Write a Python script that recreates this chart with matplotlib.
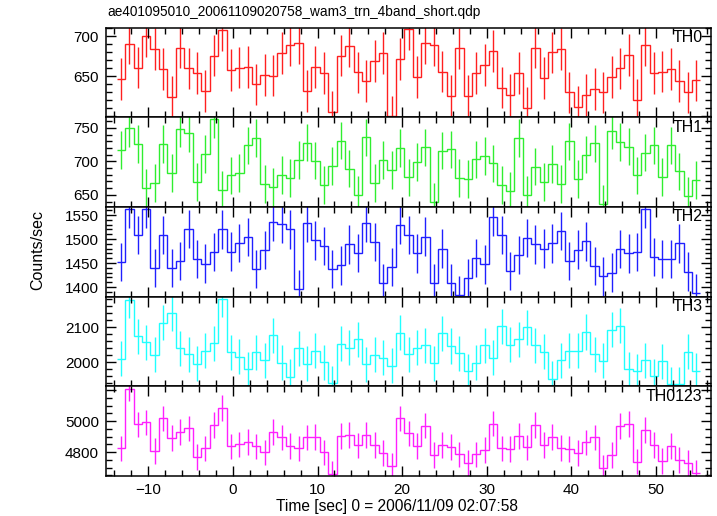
import matplotlib
matplotlib.use('Agg')
import matplotlib.pyplot as plt
from matplotlib.ticker import MultipleLocator, FuncFormatter
import numpy as np

plt.rcParams['font.family'] = ['Liberation Sans', 'DejaVu Sans']

TITLE = 'ae401095010_20061109020758_wam3_trn_4band_short.qdp'
XLABEL = 'Time [sec] 0 = 2006/11/09 02:07:58'
YLABEL = 'Counts/sec'

# 1 s bins
t_start = -13.75
bin_width = 1.0

names = ['TH0', 'TH1', 'TH2', 'TH3', 'TH0123']
colors = ['#ff2020', '#30ee30', '#2020ff', '#20ffff', '#ff20ff']

th0 = [647, 691, 661, 700, 684, 659, 624, 686, 660, 654, 632, 676, 708, 658, 661, 662, 640, 652,
       651, 679, 689, 692, 632, 662, 654, 606, 676, 688, 655, 644, 669, 679, 600, 672, 709, 649,
       692, 689, 656, 626, 685, 626, 654, 664, 682, 636, 627, 654, 611, 686, 648, 680, 684, 630,
       612, 627, 634, 630, 649, 660, 677, 621, 689, 654, 656, 659, 644, 630, 645]
th1 = [717, 750, 726, 660, 668, 726, 683, 749, 742, 669, 711, 763, 657, 679, 683, 724, 735, 666,
       662, 680, 675, 702, 728, 701, 665, 693, 731, 689, 650, 736, 668, 702, 687, 720, 676, 699,
       721, 640, 716, 718, 675, 674, 703, 708, 697, 665, 656, 735, 650, 692, 669, 696, 666, 730,
       674, 710, 727, 636, 746, 729, 722, 679, 713, 724, 677, 724, 685, 649, 672]
th2 = [1452, 1562, 1508, 1562, 1439, 1508, 1440, 1454, 1521, 1459, 1449, 1473, 1520, 1474, 1492,
       1504, 1438, 1477, 1535, 1532, 1520, 1395, 1533, 1497, 1486, 1437, 1445, 1489, 1471, 1534,
       1494, 1408, 1442, 1529, 1509, 1470, 1505, 1408, 1480, 1409, 1383, 1418, 1460, 1447, 1546,
       1508, 1433, 1467, 1502, 1489, 1480, 1491, 1517, 1454, 1478, 1495, 1444, 1422, 1430, 1479,
       1470, 1473, 1562, 1463, 1459, 1458, 1491, 1432, 1388]
th3 = [2010, 2177, 2074, 2057, 2021, 2112, 2139, 2039, 2023, 1996, 2033, 2054, 2179, 2028, 2016,
       1979, 2028, 2005, 2076, 1998, 1958, 2039, 1996, 2032, 1999, 1940, 2053, 2041, 2065, 1994,
       2021, 2013, 1990, 2084, 2023, 2041, 2048, 1997, 2082, 2046, 2025, 1974, 1998, 2048, 2013,
       2103, 2050, 2065, 2099, 2048, 2029, 1953, 2006, 2032, 2032, 2086, 2022, 2004, 2093, 2104,
       1980, 1974, 2005, 1959, 2003, 1937, 1937, 2030, 1976]
th0123 = [4824, 5211, 4979, 4992, 4807, 5018, 4893, 4931, 4953, 4770, 4824, 4974, 5086, 4837, 4850,
          4867, 4837, 4798, 4931, 4895, 4841, 4824, 4895, 4899, 4798, 4658, 4905, 4912, 4843, 4912,
          4845, 4796, 4710, 5018, 4921, 4841, 4972, 4781, 4847, 4834, 4785, 4731, 4785, 4813, 4985,
          4824, 4818, 4905, 4830, 4974, 4845, 4899, 4826, 4818, 4796, 4863, 4895, 4695, 4779, 4968,
          4981, 4738, 4942, 4845, 4744, 4839, 4748, 4731, 4663]
series = [th0, th1, th2, th3, th0123]
errors = [26, 28, 40, 50, 83]

ylims = [(599, 711), (632, 766), (1380, 1567), (1931, 2187), (4645, 5226)]
major = [50, 50, 50, 100, 200]
minor = [10, 10, 10, 20, 50]


def edge_hiding(lo, hi):
    # no label on ticks that sit right at the frame
    def fmt(v, pos):
        if v - lo < 0.06 * (hi - lo) or hi - v < 0.06 * (hi - lo):
            return ''
        return '%d' % v
    return FuncFormatter(fmt)


fig = plt.figure(figsize=(7.17, 5.16), dpi=100)
left, right = 106 / 717, 711 / 717
top, bottom = 1 - 27.5 / 516, 1 - 476 / 516
h = (top - bottom) / 5

axes = []
for i, (name, col, vals, err) in enumerate(zip(names, colors, series, errors)):
    ax = fig.add_axes([left, top - (i + 1) * h, right - left, h])
    vals = np.array(vals, dtype=float)
    edges = t_start + bin_width * np.arange(len(vals) + 1)
    centers = 0.5 * (edges[:-1] + edges[1:])
    ax.stairs(vals, edges, baseline=None, color=col, lw=1.0)
    ax.errorbar(centers, vals, yerr=err, fmt='none', ecolor=col, elinewidth=1.0, capsize=0)
    ax.set_xlim(-15, 56.5)
    ax.set_ylim(*ylims[i])
    ax.xaxis.set_major_locator(MultipleLocator(10))
    ax.xaxis.set_minor_locator(MultipleLocator(2))
    ax.yaxis.set_major_locator(MultipleLocator(major[i]))
    ax.yaxis.set_minor_locator(MultipleLocator(minor[i]))
    ax.yaxis.set_major_formatter(edge_hiding(*ylims[i]))
    ax.tick_params(which='both', direction='in', top=True, right=True, width=1, labelsize=11)
    ax.tick_params(which='major', length=7)
    ax.tick_params(which='minor', length=4)
    ax.tick_params(axis='y', pad=5)
    ax.tick_params(axis='x', pad=5)
    for s in ax.spines.values():
        s.set_linewidth(1.1)
    if i < 4:
        ax.tick_params(labelbottom=False)
    ax.text(0.986, 0.89, name, transform=ax.transAxes, ha='right', va='center', fontsize=11.5)
    axes.append(ax)

axes[-1].xaxis.set_major_formatter(
    FuncFormatter(lambda v, p: ('\u2212' if v < 0 else '') + '%d' % abs(v)))

fig.text(107 / 717, 1 - 12 / 516, TITLE, ha='left', va='center', fontsize=9.8)
fig.text(397 / 717, 1 - 507 / 516, XLABEL, ha='center', va='center', fontsize=11.2)
fig.text(38 / 717, 1 - 250 / 516, YLABEL, ha='center', va='center', rotation=90, fontsize=11.5)

fig.savefig('out.png', dpi=100)
